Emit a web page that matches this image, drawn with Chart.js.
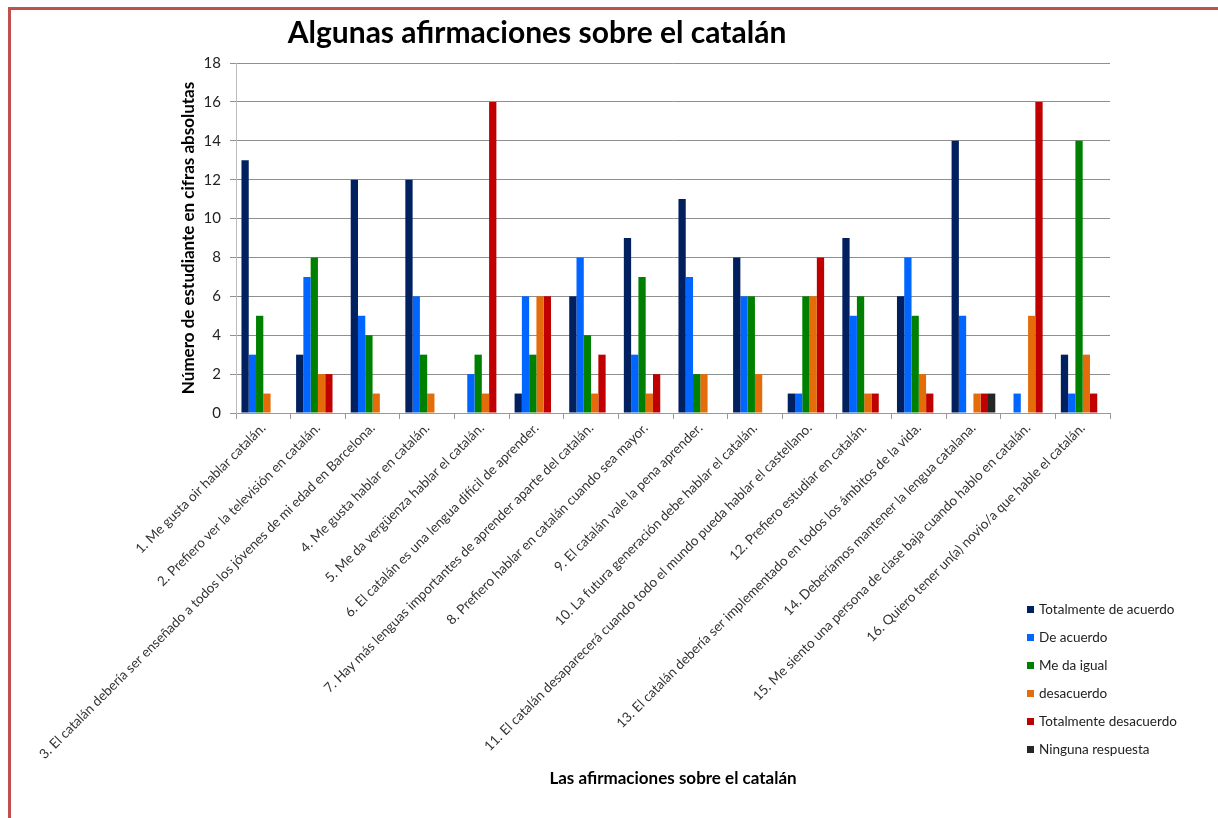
<!DOCTYPE html>
<html>
<head>
<meta charset="utf-8">
<script src="https://cdn.jsdelivr.net/npm/chart.js@4/dist/chart.umd.min.js"></script>
<style>
  html, body { margin: 0; padding: 0; background: #ffffff; }
  #wrap { position: relative; width: 1218px; height: 818px; overflow: hidden; }
  #frame { position: absolute; left: 8px; top: 7px; width: 1400px; height: 1000px;
           border-left: 3px solid #c0504d; border-top: 3px solid #c0504d; pointer-events: none; }
  canvas { position: absolute; left: 0; top: 0; }
</style>
</head>
<body>
<div id="wrap">
  <canvas id="c" width="1218" height="818"></canvas>
  <div id="frame"></div>
</div>
<script>
const chartTitle = 'Algunas afirmaciones sobre el catalán';
const yAxisTitle = 'Número de estudiante en cifras absolutas';
const xAxisTitle = 'Las afirmaciones sobre el catalán';

const categories = [
  '1. Me gusta oir hablar catalán.',
  '2. Prefiero ver la televisión en catalán.',
  '3. El catalán debería ser enseñado a todos los jóvenes de mi edad en Barcelona.',
  '4. Me gusta hablar en catalán.',
  '5. Me da vergüenza hablar el catalán.',
  '6. El catalán es una lengua difícil de aprender.',
  '7. Hay más lenguas importantes de aprender aparte del catalán.',
  '8. Prefiero hablar en catalán cuando sea mayor.',
  '9. El catalán vale la pena aprender.',
  '10. La futura generación debe hablar el catalán.',
  '11. El catalán desaparecerá cuando todo el mundo pueda hablar el castellano.',
  '12. Prefiero estudiar en catalán.',
  '13. El catalán debería ser implementado en todos los ámbitos de la vida.',
  '14. Deberíamos mantener la lengua catalana.',
  '15. Me siento una persona de clase baja cuando hablo en catalán.',
  '16. Quiero tener un(a) novio/a que hable el catalán.'
];

const seriesNames = ['Totalmente de acuerdo', 'De acuerdo', 'Me da igual', 'desacuerdo', 'Totalmente desacuerdo', 'Ninguna respuesta'];

const totalmenteDeAcuerdo  = [13, 3, 12, 12, 0, 1, 6, 9, 11, 8, 1, 9, 6, 14, 0, 3];
const deAcuerdo            = [3, 7, 5, 6, 2, 6, 8, 3, 7, 6, 1, 5, 8, 5, 1, 1];
const meDaIgual            = [5, 8, 4, 3, 3, 3, 4, 7, 2, 6, 6, 6, 5, 0, 0, 14];
const desacuerdo           = [1, 2, 1, 1, 1, 6, 1, 1, 2, 2, 6, 1, 2, 1, 5, 3];
const totalmenteDesacuerdo = [0, 2, 0, 0, 16, 6, 3, 2, 0, 0, 8, 1, 1, 1, 16, 1];
const ningunaRespuesta     = [0, 0, 0, 0, 0, 0, 0, 0, 0, 0, 0, 0, 0, 1, 0, 0];

const yTicks = [0, 2, 4, 6, 8, 10, 12, 14, 16, 18];

const seriesColors = ['#002060', '#0066ff', '#008000', '#e46c0a', '#c00000', '#262626'];
const seriesValues = [totalmenteDeAcuerdo, deAcuerdo, meDaIgual, desacuerdo, totalmenteDesacuerdo, ningunaRespuesta];

const FONT = 'Lato, "Open Sans", "DejaVu Sans", sans-serif';

const decorPlugin = {
  id: 'decor',
  afterDraw(chart) {
    const ctx = chart.ctx;
    ctx.save();
    // Title
    ctx.fillStyle = '#000000';
    ctx.font = 'bold 30px ' + FONT;
    ctx.textAlign = 'center';
    ctx.textBaseline = 'middle';
    ctx.fillText(chartTitle, 537, 33);
    // Legend
    ctx.font = '13.5px ' + FONT;
    ctx.textAlign = 'left';
    chart.data.datasets.forEach((ds, i) => {
      const y = 610 + i * 28;
      ctx.fillStyle = ds.backgroundColor;
      ctx.fillRect(1027, y - 4, 7, 7);
      ctx.fillStyle = '#222222';
      ctx.fillText(ds.label, 1039, y);
    });
    ctx.restore();
  }
};

new Chart(document.getElementById('c'), {
  type: 'bar',
  data: {
    labels: categories,
    datasets: seriesNames.map((name, i) => ({
      label: name,
      data: seriesValues[i],
      backgroundColor: seriesColors[i],
      borderWidth: 0,
      categoryPercentage: 0.8,
      barPercentage: 1.0
    }))
  },
  options: {
    responsive: false,
    animation: false,
    devicePixelRatio: 1,
    layout: { padding: { left: 170, right: 108, top: 63, bottom: 0 } },
    plugins: {
      legend: { display: false },
      title: { display: false },
      tooltip: { enabled: false }
    },
    scales: {
      x: {
        grid: { display: true, drawOnChartArea: false, color: '#999999', tickLength: 6, offset: true },
        border: { color: '#999999' },
        ticks: {
          autoSkip: false,
          maxRotation: 45,
          minRotation: 45,
          color: '#333333',
          font: { family: FONT, size: 13.5 },
          padding: 1
        },
        title: {
          display: true,
          text: xAxisTitle,
          color: '#000000',
          font: { family: FONT, size: 17, weight: 'bold' },
          padding: { top: 0, bottom: 29 }
        },
        afterFit(scale) { scale.height = 405; }
      },
      y: {
        min: 0,
        max: 18,
        afterBuildTicks(scale) { scale.ticks = yTicks.map(v => ({ value: v })); },
        grid: { color: '#8f8f8f', tickLength: 6, lineWidth: 1 },
        border: { color: '#bbbbbb' },
        ticks: {
          color: '#222222',
          font: { family: FONT, size: 15 },
          padding: 9
        },
        title: {
          display: true,
          text: yAxisTitle,
          color: '#000000',
          font: { family: FONT, size: 17, weight: 'bold' },
          padding: { top: 8, bottom: 0 }
        },
        afterFit(scale) { scale.width = 66; }
      }
    }
  },
  plugins: [decorPlugin]
});
</script>
</body>
</html>
